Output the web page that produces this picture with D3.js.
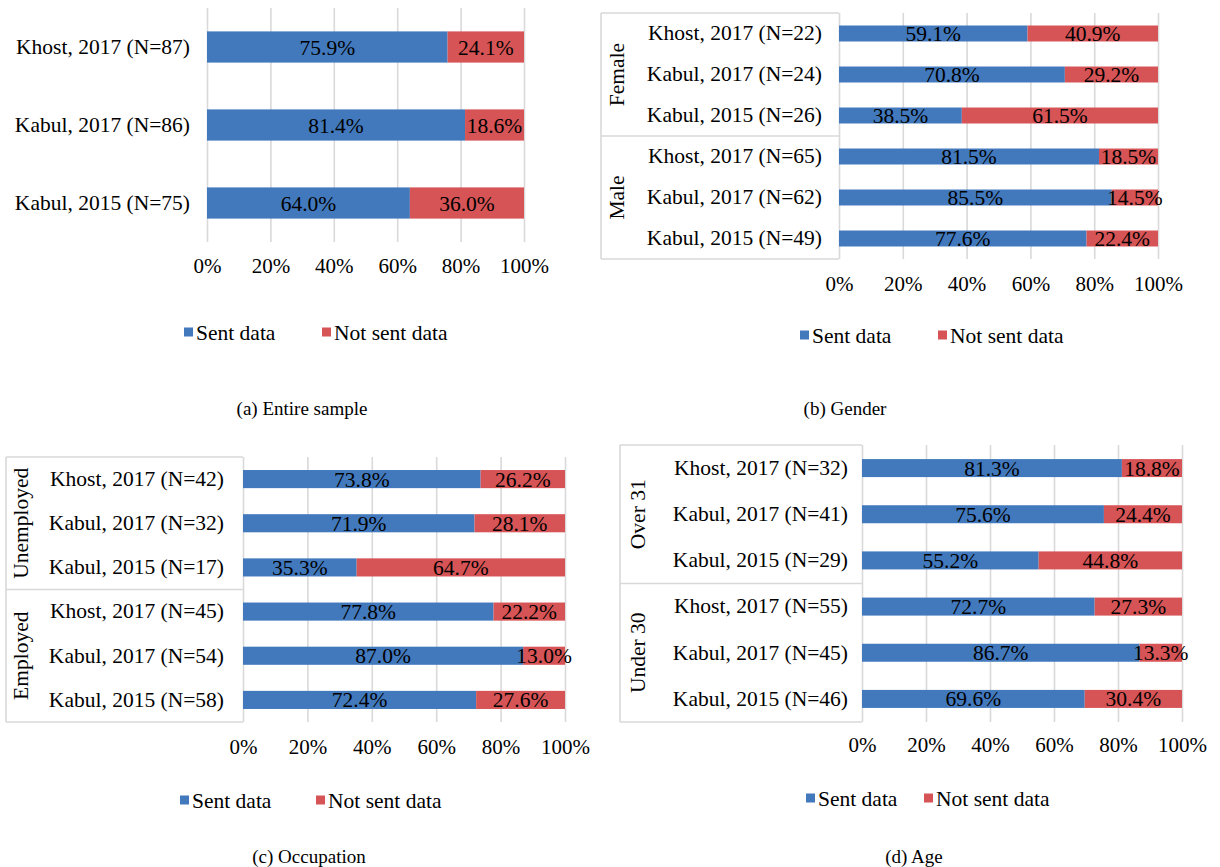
<!DOCTYPE html>
<html>
<head>
<meta charset="utf-8">
<script src="https://cdn.jsdelivr.net/npm/d3@7"></script>
<style>
  html, body { margin: 0; padding: 0; background: #fff; }
  svg { display: block; }
  text { font-family: "Liberation Serif", "Times New Roman", serif; fill: #000; }
</style>
</head>
<body>
<svg id="chart" width="1220" height="867"></svg>
<script>
// ---------- data ----------
const seriesNames = ["Sent data", "Not sent data"];
const tickValues = [0, 0.2, 0.4, 0.6, 0.8, 1.0];

// (a) Entire sample
const catsA = ["Khost, 2017 (N=87)", "Kabul, 2017 (N=86)", "Kabul, 2015 (N=75)"];
const sentA = [75.9, 81.4, 64.0];
const notSentA = [24.1, 18.6, 36.0];

// (b) Gender
const groupsB = ["Female", "Male"];
const catsB = ["Khost, 2017 (N=22)", "Kabul, 2017 (N=24)", "Kabul, 2015 (N=26)",
               "Khost, 2017 (N=65)", "Kabul, 2017 (N=62)", "Kabul, 2015 (N=49)"];
const sentB = [59.1, 70.8, 38.5, 81.5, 85.5, 77.6];
const notSentB = [40.9, 29.2, 61.5, 18.5, 14.5, 22.4];

// (c) Occupation
const groupsC = ["Unemployed", "Employed"];
const catsC = ["Khost, 2017 (N=42)", "Kabul, 2017 (N=32)", "Kabul, 2015 (N=17)",
               "Khost, 2017 (N=45)", "Kabul, 2017 (N=54)", "Kabul, 2015 (N=58)"];
const sentC = [73.8, 71.9, 35.3, 77.8, 87.0, 72.4];
const notSentC = [26.2, 28.1, 64.7, 22.2, 13.0, 27.6];

// (d) Age
const groupsD = ["Over 31", "Under 30"];
const catsD = ["Khost, 2017 (N=32)", "Kabul, 2017 (N=41)", "Kabul, 2015 (N=29)",
               "Khost, 2017 (N=55)", "Kabul, 2017 (N=45)", "Kabul, 2015 (N=46)"];
const sentD = [81.3, 75.6, 55.2, 72.7, 86.7, 69.6];
const notSentD = [18.8, 24.4, 44.8, 27.3, 13.3, 30.4];

const captions = ["(a) Entire sample", "(b) Gender", "(c) Occupation", "(d) Age"];

// ---------- style ----------
const colors = ["#4279bd", "#d65456"];
const gridColor = "#d9d9d9";
const FS = 21.5;
const FS_TICK = 21;

const svg = d3.select("#chart");

function drawPanel(cfg) {
  const g = svg.append("g");
  const n = cfg.cats.length;
  const rows = cfg.cats.map((c, i) => ({ key: i, label: c, s: cfg.sent[i], ns: cfg.notSent[i] }));

  const x = d3.scaleLinear().domain([0, 1]).range([cfg.x0, cfg.x1]);
  const y = d3.scaleBand().domain(rows.map(r => r.key)).range([cfg.y0, cfg.y1])
    .paddingInner(cfg.pad).paddingOuter(cfg.pad / 2);

  // gridlines via axis
  const grid = g.append("g").attr("transform", `translate(0,${cfg.y1})`)
    .call(d3.axisBottom(x).tickValues(tickValues).tickSize(-(cfg.y1 - cfg.y0)).tickFormat(""));
  grid.select(".domain").remove();
  grid.selectAll("line").attr("stroke", gridColor).attr("stroke-width", 1.6);

  // group box
  if (cfg.groups) {
    const box = g.append("g").attr("stroke", gridColor).attr("stroke-width", 1.6).attr("fill", "none");
    const step = y.step();
    const per = n / cfg.groups.length;
    const lines = [cfg.y0];
    for (let k = 1; k <= cfg.groups.length; k++) lines.push(cfg.y0 + step * per * k);
    lines.forEach(yy => box.append("line").attr("x1", cfg.boxLeft).attr("x2", cfg.x0).attr("y1", yy).attr("y2", yy));
    box.append("line").attr("x1", cfg.boxLeft).attr("x2", cfg.boxLeft).attr("y1", cfg.y0).attr("y2", cfg.y1);
    cfg.groups.forEach((gr, k) => {
      const cy = cfg.y0 + step * per * (k + 0.5);
      g.append("text")
        .attr("transform", `translate(${cfg.boxLeft + cfg.groupDx},${cy}) rotate(-90)`)
        .attr("text-anchor", "middle").attr("dy", "0.35em")
        .style("font-size", FS + "px").text(gr);
    });
  }

  // stacked bars
  const stack = d3.stack().keys(["s", "ns"]).offset(d3.stackOffsetExpand);
  const stacked = stack(rows);
  stacked.forEach((layer, li) => {
    g.append("g").attr("fill", colors[li]).selectAll("rect").data(layer).join("rect")
      .attr("x", d => x(d[0]))
      .attr("y", d => y(d.data.key))
      .attr("width", d => x(d[1]) - x(d[0]))
      .attr("height", y.bandwidth());
  });
  stacked.forEach((layer, li) => {
    g.append("g").selectAll("text").data(layer).join("text")
      .attr("x", d => (x(d[0]) + x(d[1])) / 2)
      .attr("y", d => y(d.data.key) + y.bandwidth() / 2)
      .attr("dy", "0.35em").attr("text-anchor", "middle")
      .style("font-size", FS + "px")
      .text(d => (li === 0 ? d.data.s : d.data.ns).toFixed(1) + "%");
  });

  // category axis
  const yAxis = g.append("g").attr("transform", `translate(${cfg.x0},0)`)
    .call(d3.axisLeft(y).tickSize(0).tickPadding(cfg.labelGap).tickFormat(k => rows[k].label));
  yAxis.select(".domain").remove();
  yAxis.selectAll("text").style("font-size", FS + "px").style("font-family", "Liberation Serif").attr("fill", "#000");

  // value axis labels
  const xAxis = g.append("g").attr("transform", `translate(0,${cfg.tickY})`)
    .call(d3.axisBottom(x).tickValues(tickValues).tickSize(0).tickFormat(d3.format(".0%")));
  xAxis.select(".domain").remove();
  xAxis.selectAll("text").attr("y", 0).attr("dy", "0.35em")
    .style("font-size", FS_TICK + "px").style("font-family", "Liberation Serif").attr("fill", "#000");

  // legend
  const leg = g.append("g").attr("transform", `translate(0,${cfg.legY})`);
  seriesNames.forEach((nm, i) => {
    const lx = cfg.legX[i];
    leg.append("rect").attr("x", lx).attr("y", -4.5).attr("width", 9).attr("height", 9).attr("fill", colors[i]);
    leg.append("text").attr("x", lx + 12).attr("dy", "0.35em").style("font-size", FS + "px").text(nm);
  });

  // caption
  g.append("text").attr("x", cfg.capX).attr("y", cfg.capY).attr("dy", "0.35em")
    .attr("text-anchor", "middle").style("font-size", "19px").text(cfg.caption);
}

drawPanel({ cats: catsA, sent: sentA, notSent: notSentA, x0: 207, x1: 524, y0: 8, y1: 242, pad: 0.6,
  labelGap: 17, tickY: 266, legY: 332, legX: [184, 322], capX: 302, capY: 408, caption: captions[0] });

drawPanel({ cats: catsB, sent: sentB, notSent: notSentB, groups: groupsB, boxLeft: 601, groupDx: 15,
  x0: 839, x1: 1158, y0: 13, y1: 259, pad: 0.61,
  labelGap: 17, tickY: 284, legY: 335, legX: [800, 938], capX: 845, capY: 408, caption: captions[1] });

drawPanel({ cats: catsC, sent: sentC, notSent: notSentC, groups: groupsC, boxLeft: 6, groupDx: 14,
  x0: 243, x1: 565, y0: 457, y1: 722, pad: 0.59,
  labelGap: 19, tickY: 747, legY: 800, legX: [180, 316], capX: 309, capY: 856, caption: captions[2] });

drawPanel({ cats: catsD, sent: sentD, notSent: notSentD, groups: groupsD, boxLeft: 620, groupDx: 17,
  x0: 862, x1: 1182, y0: 445, y1: 722, pad: 0.61,
  labelGap: 14, tickY: 745, legY: 798, legX: [806, 924], capX: 914, capY: 856, caption: captions[3] });
</script>
</body>
</html>
